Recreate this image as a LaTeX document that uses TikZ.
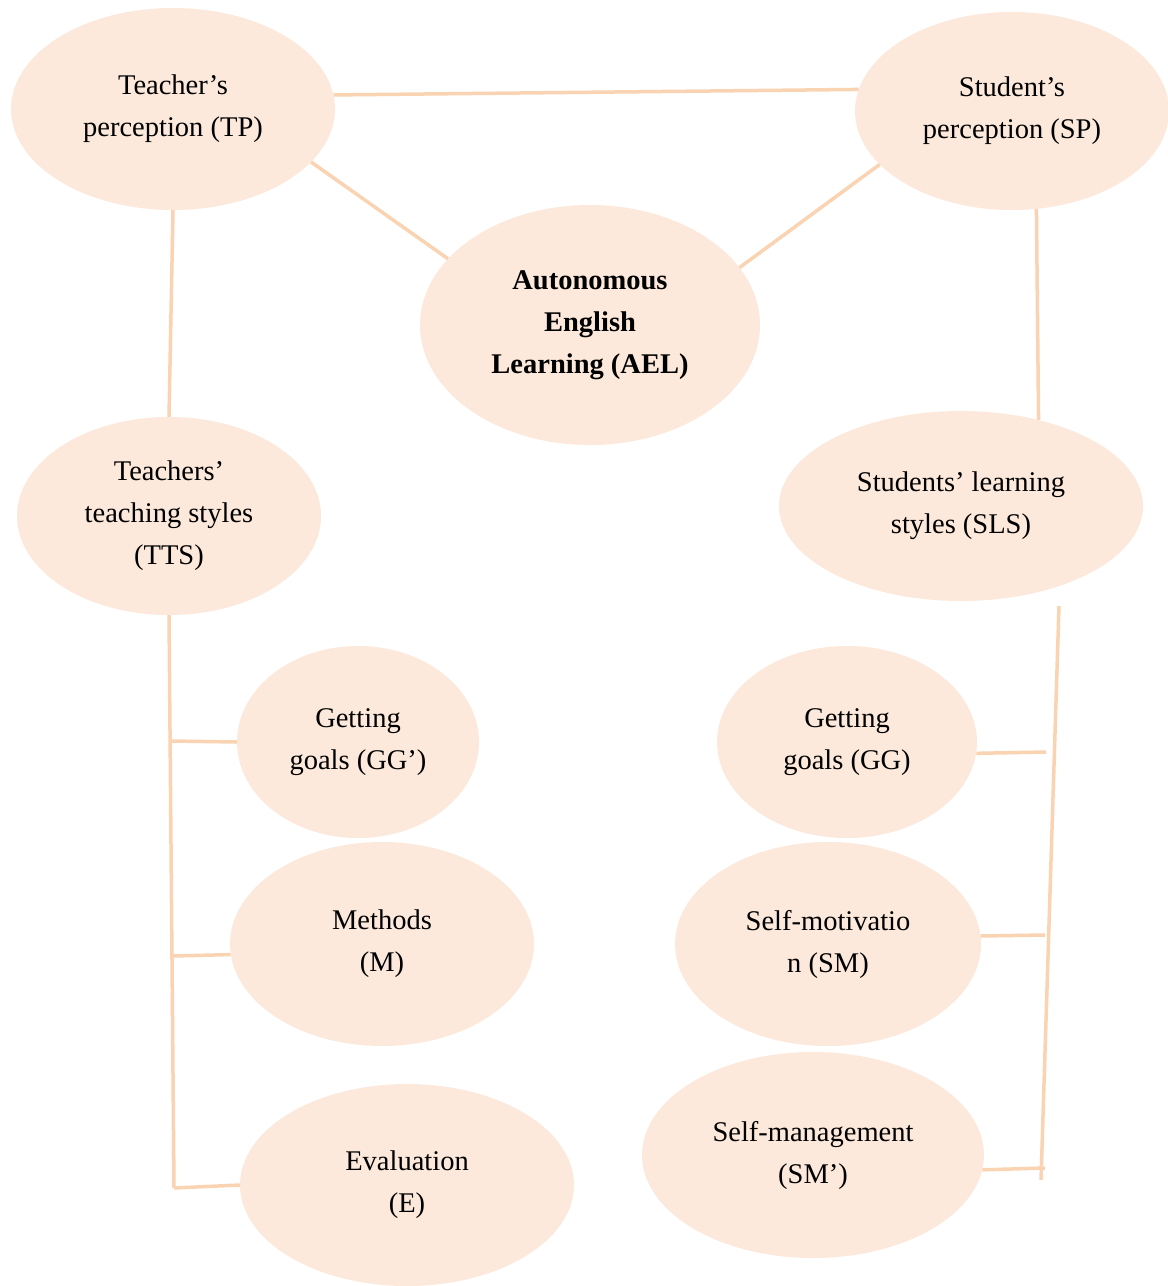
\documentclass[tikz,border=0pt]{standalone}
\usepackage{fontspec}
\setmainfont{Liberation Serif}
\usetikzlibrary{shapes.geometric}
\definecolor{bubfill}{HTML}{FCE9DB}
\definecolor{linkc}{HTML}{F9D3B2}
\tikzset{
  bub/.style={ellipse, fill=bubfill, inner sep=0pt, align=center,
    font=\fontsize{28.5}{42}\selectfont},
  link/.style={draw=linkc, line width=3.5pt}
}
\begin{document}
\begin{tikzpicture}[x=1pt,y=-1pt]
\path[use as bounding box, fill=white] (0,0) rectangle (1168,1286);
% nodes
\node[bub, minimum width=324pt, minimum height=202pt] (TP) at (173,109) {Teacher’s\\perception (TP)};
\node[bub, minimum width=314pt, minimum height=198pt] (SP) at (1012,111) {Student’s\\perception (SP)};
\node[bub, minimum width=340pt, minimum height=240pt, font=\fontsize{28.5}{42}\selectfont\bfseries] (AEL) at (590,325) {Autonomous\\English\\Learning (AEL)};
\node[bub, minimum width=304pt, minimum height=198pt] (TTS) at (169,516) {Teachers’\\teaching styles\\(TTS)};
\node[bub, minimum width=364pt, minimum height=190pt] (SLS) at (961,506) {Students’ learning\\styles (SLS)};
\node[bub, minimum width=242pt, minimum height=192pt] (GGp) at (358,742) {Getting\\goals (GG’)};
\node[bub, minimum width=304pt, minimum height=204pt] (M) at (382,944) {Methods\\(M)};
\node[bub, minimum width=334pt, minimum height=202pt] (E) at (407,1185) {Evaluation\\(E)};
\node[bub, minimum width=260pt, minimum height=192pt] (GG) at (847,742) {Getting\\goals (GG)};
\node[bub, minimum width=306pt, minimum height=204pt] (SM) at (828,944) {Self-motivatio\\n (SM)};
\node[bub, minimum width=342pt, minimum height=206pt] (SMp) at (813,1155) {Self-management\\(SM’)};
% junction coordinates
\coordinate (jL1) at (171,741);
\coordinate (jL2) at (173,956);
\coordinate (LB) at (174,1188);
\coordinate (RT) at (1059,606);
\coordinate (RB) at (1041,1180);
\coordinate (jR1) at (1046,752);
\coordinate (jR2) at (1045,935);
\coordinate (jR3) at (1045,1168);
% connectors
\draw[link] (TP.5) -- (SP.172);
\draw[link] (TP.-21) -- (AEL.155);
\draw[link] (SP.-158) -- (AEL.21);
\draw[link] (TP.south) -- (TTS.north);
\draw[link] (SP.-76) -- (SLS.48);
\draw[link] (TTS.south) -- (LB);
\draw[link] (jL1) -- (GGp.west);
\draw[link] (jL2) -- (M.184);
\draw[link] (LB) -- (E.west);
\draw[link] (RT) -- (RB);
\draw[link] (GG.-5) -- (jR1);
\draw[link] (SM.3) -- (jR2);
\draw[link] (SMp.-5) -- (jR3);
\end{tikzpicture}
\end{document}
